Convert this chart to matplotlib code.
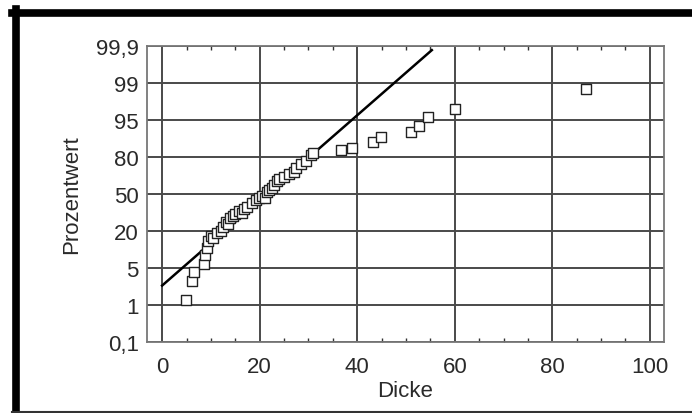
import numpy as np
import matplotlib
matplotlib.use('Agg')
import matplotlib.pyplot as plt
from matplotlib.lines import Line2D

plt.rcParams['font.family'] = ['Liberation Sans', 'DejaVu Sans']

# Wahrscheinlichkeitsnetz: Prozentwerte der Achse (gleichabständig gezeichnet)
y_ticks = [0.1, 1, 5, 20, 50, 80, 95, 99, 99.9]
y_labels = ['0,1', '1', '5', '20', '50', '80', '95', '99', '99,9']
x_ticks = [0, 20, 40, 60, 80, 100]

# Messpunkte (Dicke, Prozentwert)
dicke = [4.9, 6.1, 6.6, 8.5, 8.8, 9.2, 9.4, 10.0, 10.5, 11.3, 12.0, 12.5,
         13.0, 13.5, 14.0, 14.5, 15.0, 15.8, 16.3, 16.8, 17.5, 18.5, 19.2,
         19.8, 20.5, 21.0, 21.5, 22.0, 22.5, 23.0, 23.5, 24.0, 25.0, 26.0,
         27.0, 27.5, 28.5, 29.5, 30.5, 31.0, 36.7, 38.9, 43.2, 44.8, 51.0,
         52.7, 54.6, 60.0, 87.0]
prozent = [1.5, 3.6, 4.6, 6.8, 10.3, 13.1, 15.8, 17.8, 17.0, 19.3, 20.0, 23.0,
           27.5, 26.0, 30.5, 32.0, 33.5, 36.5, 35.0, 38.0, 39.5, 42.5, 45.5,
           47.0, 48.5, 47.0, 51.5, 53.0, 54.5, 57.5, 60.5, 62.0, 63.5, 66.5,
           68.0, 71.0, 74.0, 77.0, 80.8, 81.5, 83.0, 83.8, 85.9, 88.0, 90.0,
           92.5, 95.3, 96.2, 98.3]

# Ausgleichsgerade
gerade_x = [0, 55.3]
gerade_y = [3.1, 99.8]

pos = np.arange(len(y_ticks), dtype=float)


def fwd(p):
    return np.interp(p, y_ticks, pos)


def inv(v):
    return np.interp(v, pos, y_ticks)


fig = plt.figure(figsize=(6.92, 4.14), dpi=100)
ax = fig.add_axes([147 / 692, 71 / 414, 517 / 692, 296 / 414])

grid_c = '#4a4a4a'
text_c = '#2a2a2a'
ax.set_yscale('function', functions=(fwd, inv))
ax.set_xlim(-3.1, 102.9)
ax.set_ylim(inv(-0.17), inv(8.14))

for x in x_ticks:
    ax.axvline(x, color=grid_c, lw=1.4, zorder=1)
for y in y_ticks:
    ax.axhline(y, color=grid_c, lw=1.4, zorder=1)

ax.plot(gerade_x, gerade_y, color='black', lw=1.8, zorder=3)
ax.scatter(dicke, prozent, marker='s', s=42, facecolors='white',
           edgecolors='#222222', linewidths=1.0, zorder=4)

ax.set_xticks(x_ticks)
ax.set_xticklabels([str(v) for v in x_ticks])
ax.set_xticks(np.arange(0, 101, 5), minor=True)
ax.set_yticks(y_ticks)
ax.set_yticklabels(y_labels)
ax.set_yticks([], minor=True)
ax.tick_params(axis='both', which='major', length=0, labelsize=16,
               colors=text_c)
ax.tick_params(axis='x', which='major', pad=10)
ax.tick_params(axis='y', which='major', pad=6)
ax.tick_params(axis='x', which='minor', direction='in', length=3,
               width=1, color='#333333', top=True, bottom=True)
for s in ax.spines.values():
    s.set_color('#777777')
    s.set_linewidth(1.3)

ax.set_xlabel('Dicke', fontsize=16, color=text_c, labelpad=2)
ax.set_ylabel('Prozentwert', fontsize=16, color=text_c, labelpad=10)

# schwarzer Rahmen des Bildes
fig.add_artist(Line2D([15.5 / 692, 15.5 / 692], [0, 1 - 10 / 414],
                      transform=fig.transFigure, color='black', lw=5.5))
fig.add_artist(Line2D([12 / 692, 1], [1 - 13.5 / 414, 1 - 13.5 / 414],
                      transform=fig.transFigure, color='black', lw=5.5))
fig.add_artist(Line2D([12 / 692, 1], [1 / 414, 1 / 414],
                      transform=fig.transFigure, color='#333333', lw=1.5))

fig.savefig('out.png', dpi=100)
